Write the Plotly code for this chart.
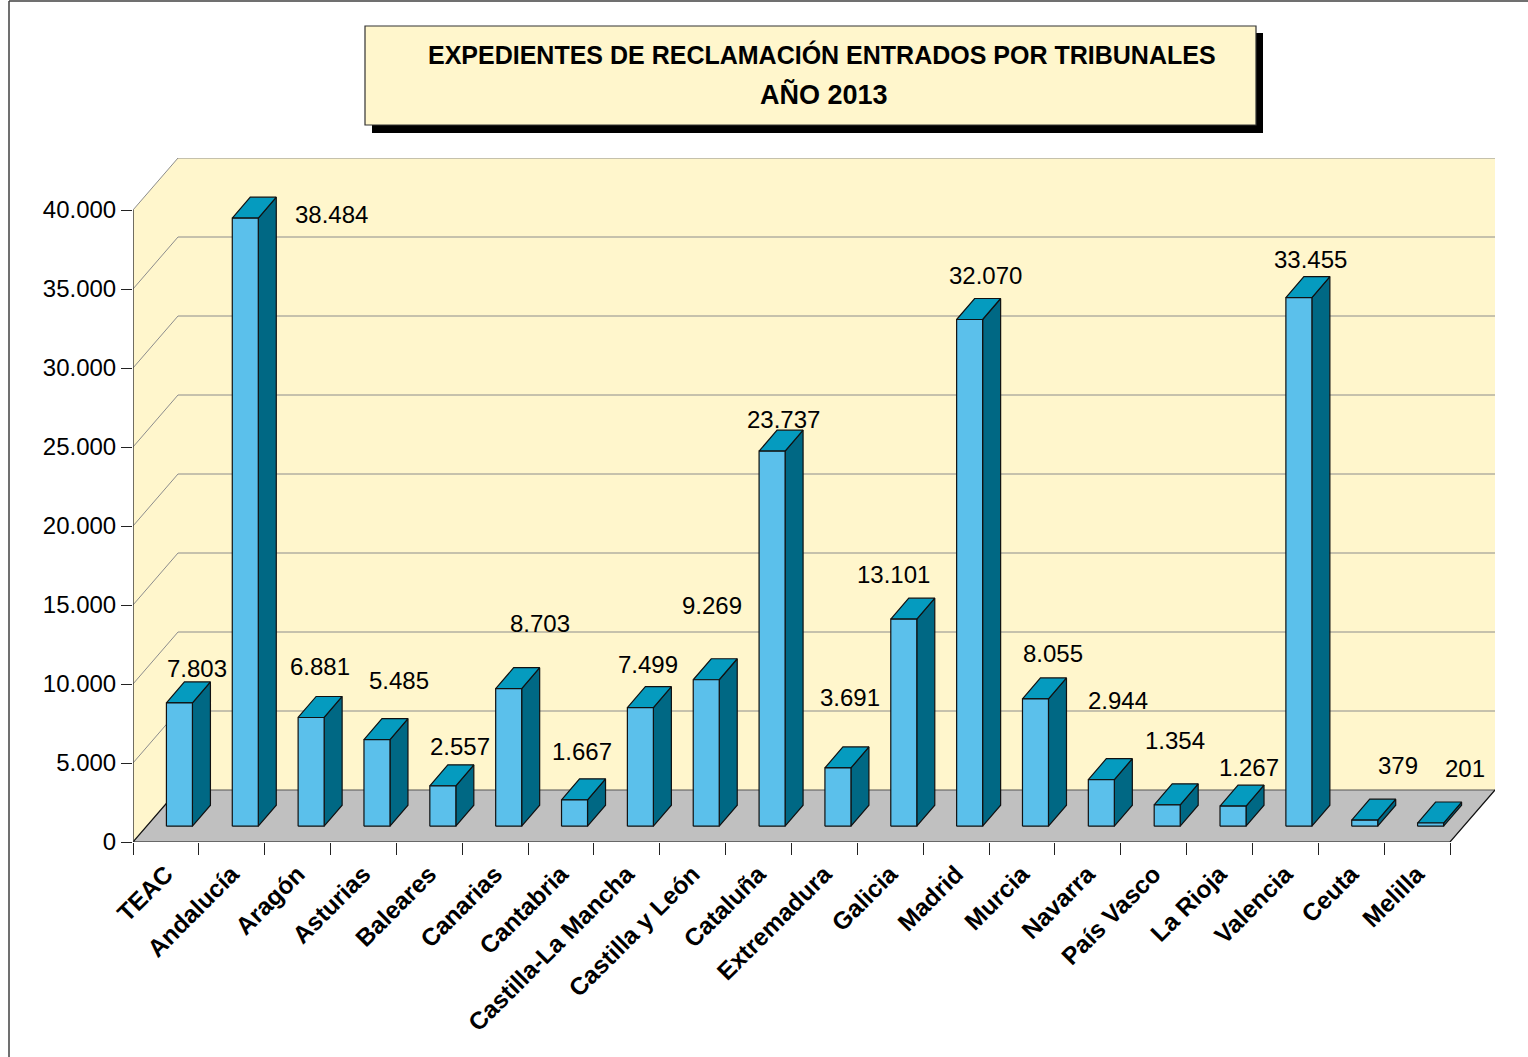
import plotly.graph_objects as go

# Data
tribunales = ['TEAC', 'Andalucía', 'Aragón', 'Asturias', 'Baleares', 'Canarias', 'Cantabria',
              'Castilla-La Mancha', 'Castilla y León', 'Cataluña', 'Extremadura', 'Galicia',
              'Madrid', 'Murcia', 'Navarra', 'País Vasco', 'La Rioja', 'Valencia', 'Ceuta', 'Melilla']
expedientes = [7803, 38484, 6881, 5485, 2557, 8703, 1667, 7499, 9269, 23737,
               3691, 13101, 32070, 8055, 2944, 1354, 1267, 33455, 379, 201]
y_ticks = [0, 5000, 10000, 15000, 20000, 25000, 30000, 35000, 40000]
y_labels = ['0', '5.000', '10.000', '15.000', '20.000', '25.000', '30.000', '35.000', '40.000']

# Label nudges in pixels, from the top of each bar
label_dx = [18, 86, 9, 22, 17, 31, 7, 8, 6, 11, 12, -10, 16, 18, 17, 8, 16, 12, 33, 34]
label_dy = [13, -17, 30, 38, 18, 44, 27, 22, 53, 11, 49, 24, 23, 24, 58, 43, 18, 17, 34, 34]

W, H = 1528, 1057
LEFT, RIGHT, TOP, BOTTOM = 133, 1495, 158, 842
PX_X = 65.85       # pixels per category
PX_Y = 0.0158      # pixels per expediente
DEPTH_X = 45 / PX_X
DEPTH_Y = 52 / PX_Y
BAR_X = 13.5 / PX_X
BAR_Y = 15.8 / PX_Y
BAR_W = 26 / PX_X
SIDE_X = 18 / PX_X
SIDE_Y = 21 / PX_Y

WALL = '#FFF6CC'
GRID = '#8C8C8C'
FRONT = '#5BC0EB'
TOPC = '#059BBF'
SIDEC = '#006884'
EDGE = '#111111'
n = len(tribunales)
y_max = y_ticks[-1]

fig = go.Figure()


def poly(xs, ys, fill, line=EDGE, width=1.2):
    fig.add_trace(go.Scatter(x=xs, y=ys, mode='lines', fill='toself', fillcolor=fill,
                             line=dict(color=line, width=width), showlegend=False,
                             hoverinfo='skip', cliponaxis=False))


def path(xs, ys, color, width=1.0):
    fig.add_trace(go.Scatter(x=xs, y=ys, mode='lines', line=dict(color=color, width=width),
                             showlegend=False, hoverinfo='skip', cliponaxis=False))


def px_x(px):
    return (px - LEFT) / (RIGHT - LEFT)


def px_y(px):
    return (BOTTOM - px) / (BOTTOM - TOP)


# Walls and floor
poly([0, DEPTH_X, n + DEPTH_X, n + DEPTH_X, DEPTH_X, 0, 0],
     [0, DEPTH_Y, DEPTH_Y, y_max + DEPTH_Y, y_max + DEPTH_Y, y_max, 0], WALL, WALL, 0)
poly([0, n, n + DEPTH_X, DEPTH_X, 0], [0, 0, DEPTH_Y, DEPTH_Y, 0], '#C0C0C0', '#C0C0C0', 0)

# Gridlines on the left and back walls
for t in y_ticks[1:]:
    path([0, DEPTH_X, n + DEPTH_X], [t, t + DEPTH_Y, t + DEPTH_Y], GRID)

# Floor edges and axis lines
path([DEPTH_X, n + DEPTH_X], [DEPTH_Y, DEPTH_Y], '#555555')
path([DEPTH_X, 0, n, n + DEPTH_X], [DEPTH_Y, 0, 0, DEPTH_Y], EDGE, 1.2)
path([0, 0], [y_max, 0], '#333333', 1.4)

# Bars: side and top faces, then the front face
bar_x = [i + 0.5 + BAR_X for i in range(n)]
for cx, v in zip(bar_x, expedientes):
    x0, x1 = cx - BAR_W / 2, cx + BAR_W / 2
    y0, y1 = BAR_Y, BAR_Y + v
    poly([x1, x1 + SIDE_X, x1 + SIDE_X, x1, x1], [y0, y0 + SIDE_Y, y1 + SIDE_Y, y1, y0], SIDEC)
    poly([x0, x1, x1 + SIDE_X, x0 + SIDE_X, x0], [y1, y1, y1 + SIDE_Y, y1 + SIDE_Y, y1], TOPC)

for i, (cx, v) in enumerate(zip(bar_x, expedientes)):
    x0, x1 = cx - BAR_W / 2, cx + BAR_W / 2
    poly([x0, x1, x1, x0, x0], [BAR_Y, BAR_Y, BAR_Y + v, BAR_Y + v, BAR_Y], FRONT)
    fig.add_annotation(x=cx, y=v + BAR_Y + SIDE_Y, text=f'{v:,}'.replace(',', '.'), showarrow=False,
                       xanchor='center', yanchor='middle', xshift=label_dx[i], yshift=label_dy[i],
                       font=dict(family='Liberation Sans', size=24, color='black'))

# Title box
fig.add_shape(type='rect', xref='paper', yref='paper', x0=px_x(372), x1=px_x(1263),
              y0=px_y(133), y1=px_y(33), fillcolor='black', line_width=0)
fig.add_shape(type='rect', xref='paper', yref='paper', x0=px_x(365), x1=px_x(1256),
              y0=px_y(125), y1=px_y(26), fillcolor=WALL, line=dict(color='#333333', width=1.2))
fig.add_annotation(xref='paper', yref='paper', x=px_x(821.5), y=px_y(55), xanchor='center', yanchor='middle',
                   text='<b>EXPEDIENTES DE RECLAMACIÓN ENTRADOS POR TRIBUNALES</b>', showarrow=False,
                   font=dict(family='Liberation Sans', size=25, color='black'))
fig.add_annotation(xref='paper', yref='paper', x=px_x(824), y=px_y(94), xanchor='center', yanchor='middle',
                   text='<b>AÑO 2013</b>', showarrow=False,
                   font=dict(family='Liberation Sans', size=27, color='black'))

# Outer frame
fig.add_shape(type='line', xref='paper', yref='paper', x0=px_x(9), x1=px_x(9), y0=px_y(H), y1=px_y(1),
              line=dict(color='#404040', width=1.5))
fig.add_shape(type='line', xref='paper', yref='paper', x0=px_x(9), x1=px_x(W), y0=px_y(1), y1=px_y(1),
              line=dict(color='#404040', width=1.5))

fig.update_xaxes(range=[0, n + DEPTH_X], showgrid=False, zeroline=False, showline=False,
                 tickmode='array', tickvals=[i + 0.5 for i in range(n)],
                 ticktext=[f'<b>{t}</b>' for t in tribunales], tickangle=-45,
                 ticks='', ticklabelstandoff=12, tickfont=dict(family='Liberation Sans', size=24.5, color='black'),
                 minor=dict(tickmode='array', tickvals=list(range(n + 1)), ticks='outside', ticklen=12,
                            tickcolor='#222222', tickwidth=1.2, showgrid=False))
fig.update_yaxes(range=[0, y_max + DEPTH_Y], showgrid=False, zeroline=False, showline=False,
                 tickmode='array', tickvals=y_ticks, ticktext=y_labels, ticks='outside', ticklen=11,
                 tickwidth=1.2, tickcolor='#222222', tickfont=dict(family='Liberation Sans', size=24, color='black'))
fig.update_layout(width=W, height=H, showlegend=False, plot_bgcolor='white', paper_bgcolor='white',
                  margin=dict(l=LEFT, r=W - RIGHT, t=TOP, b=H - BOTTOM, autoexpand=False),
                  font=dict(family='Liberation Sans'))

fig.write_html("out.html", config={'displayModeBar': False},
               post_script="document.body.style.margin='0';document.body.style.overflow='hidden';")
